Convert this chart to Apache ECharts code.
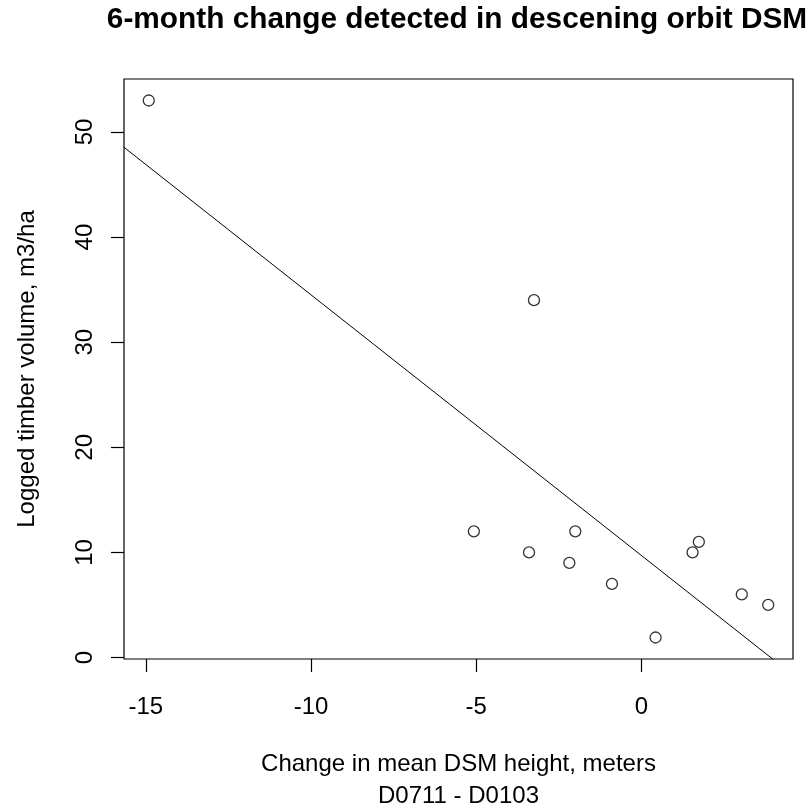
<!DOCTYPE html>
<html>
<head>
<meta charset="utf-8">
<script src="https://cdn.jsdelivr.net/npm/echarts@6/dist/echarts.min.js"></script>
<style>
html,body{margin:0;padding:0;background:#fff;}
#chart{width:811px;height:809px;}
</style>
</head>
<body>
<div id="chart"></div>
<script>
// Data
var changeX = [-14.91, -3.25, -5.07, -2.0, -3.40, -2.18, -0.89, 0.43, 1.55, 1.74, 3.04, 3.84];
var volumeY = [53, 34, 12, 12, 10, 9, 7, 1.9, 10, 11, 6, 5];
var xTicks = [-15, -10, -5, 0];
var yTicks = [0, 10, 20, 30, 40, 50];
var fitIntercept = 9.71;
var fitSlope = -2.48;
var titleText = '6-month change detected in descening orbit DSM';
var xTitle = 'Change in mean DSM height, meters\nD0711 - D0103';
var yTitle = 'Logged timber volume, m3/ha';

// R-style 4% axis extension
function ext(arr) {
  var mn = Math.min.apply(null, arr), mx = Math.max.apply(null, arr);
  var r = mx - mn;
  return [mn - 0.04 * r, mx + 0.04 * r];
}
var xr = ext(changeX), yr = ext(volumeY);

var points = changeX.map(function (x, i) { return [x, volumeY[i]]; });
var fitLine = [
  [xr[0], fitIntercept + fitSlope * xr[0]],
  [xr[1], fitIntercept + fitSlope * xr[1]]
];

var FONT = 'Liberation Sans, Arial, sans-serif';
var chart = echarts.init(document.getElementById('chart'), null, {renderer: 'canvas'});
chart.setOption({
  animation: false,
  backgroundColor: '#ffffff',
  title: {
    text: titleText,
    left: 457,
    textAlign: 'center',
    top: 5,
    padding: 0,
    textStyle: {fontFamily: FONT, fontSize: 29.8, fontWeight: 'bold', color: '#000'}
  },
  grid: {
    left: 124, top: 79, width: 669, height: 580,
    outerBoundsMode: 'none',
    containLabel: false,
    show: true, borderColor: '#000', borderWidth: 1.2, backgroundColor: 'transparent'
  },
  xAxis: {
    type: 'value',
    min: xr[0], max: xr[1],
    splitLine: {show: false},
    axisLine: {show: false, onZero: false},
    axisTick: {show: true, inside: false, length: 13, customValues: xTicks, lineStyle: {color: '#000', width: 1.2}},
    axisLabel: {customValues: xTicks, margin: 36, fontFamily: FONT, fontSize: 24, color: '#000'},
    name: xTitle,
    nameLocation: 'middle',
    nameGap: 89,
    nameTextStyle: {fontFamily: FONT, fontSize: 24, color: '#000', lineHeight: 32}
  },
  yAxis: {
    type: 'value',
    min: yr[0], max: yr[1],
    splitLine: {show: false},
    axisLine: {show: false, onZero: false},
    axisTick: {show: true, inside: false, length: 13, customValues: yTicks, lineStyle: {color: '#000', width: 1.2}},
    axisLabel: {customValues: yTicks, rotate: 90, margin: 27, fontFamily: FONT, fontSize: 24, color: '#000'},
    name: yTitle,
    nameLocation: 'middle',
    nameGap: 85,
    nameTextStyle: {fontFamily: FONT, fontSize: 24, color: '#000'}
  },
  series: [
    {
      type: 'scatter',
      data: points,
      symbol: 'circle',
      symbolSize: 11,
      itemStyle: {color: 'rgba(255,255,255,0)', borderColor: '#000', borderWidth: 1.3},
      z: 3
    },
    {
      type: 'line',
      data: fitLine,
      showSymbol: false,
      symbol: 'none',
      clip: true,
      lineStyle: {color: '#000', width: 1},
      z: 2
    }
  ]
});
</script>
</body>
</html>
